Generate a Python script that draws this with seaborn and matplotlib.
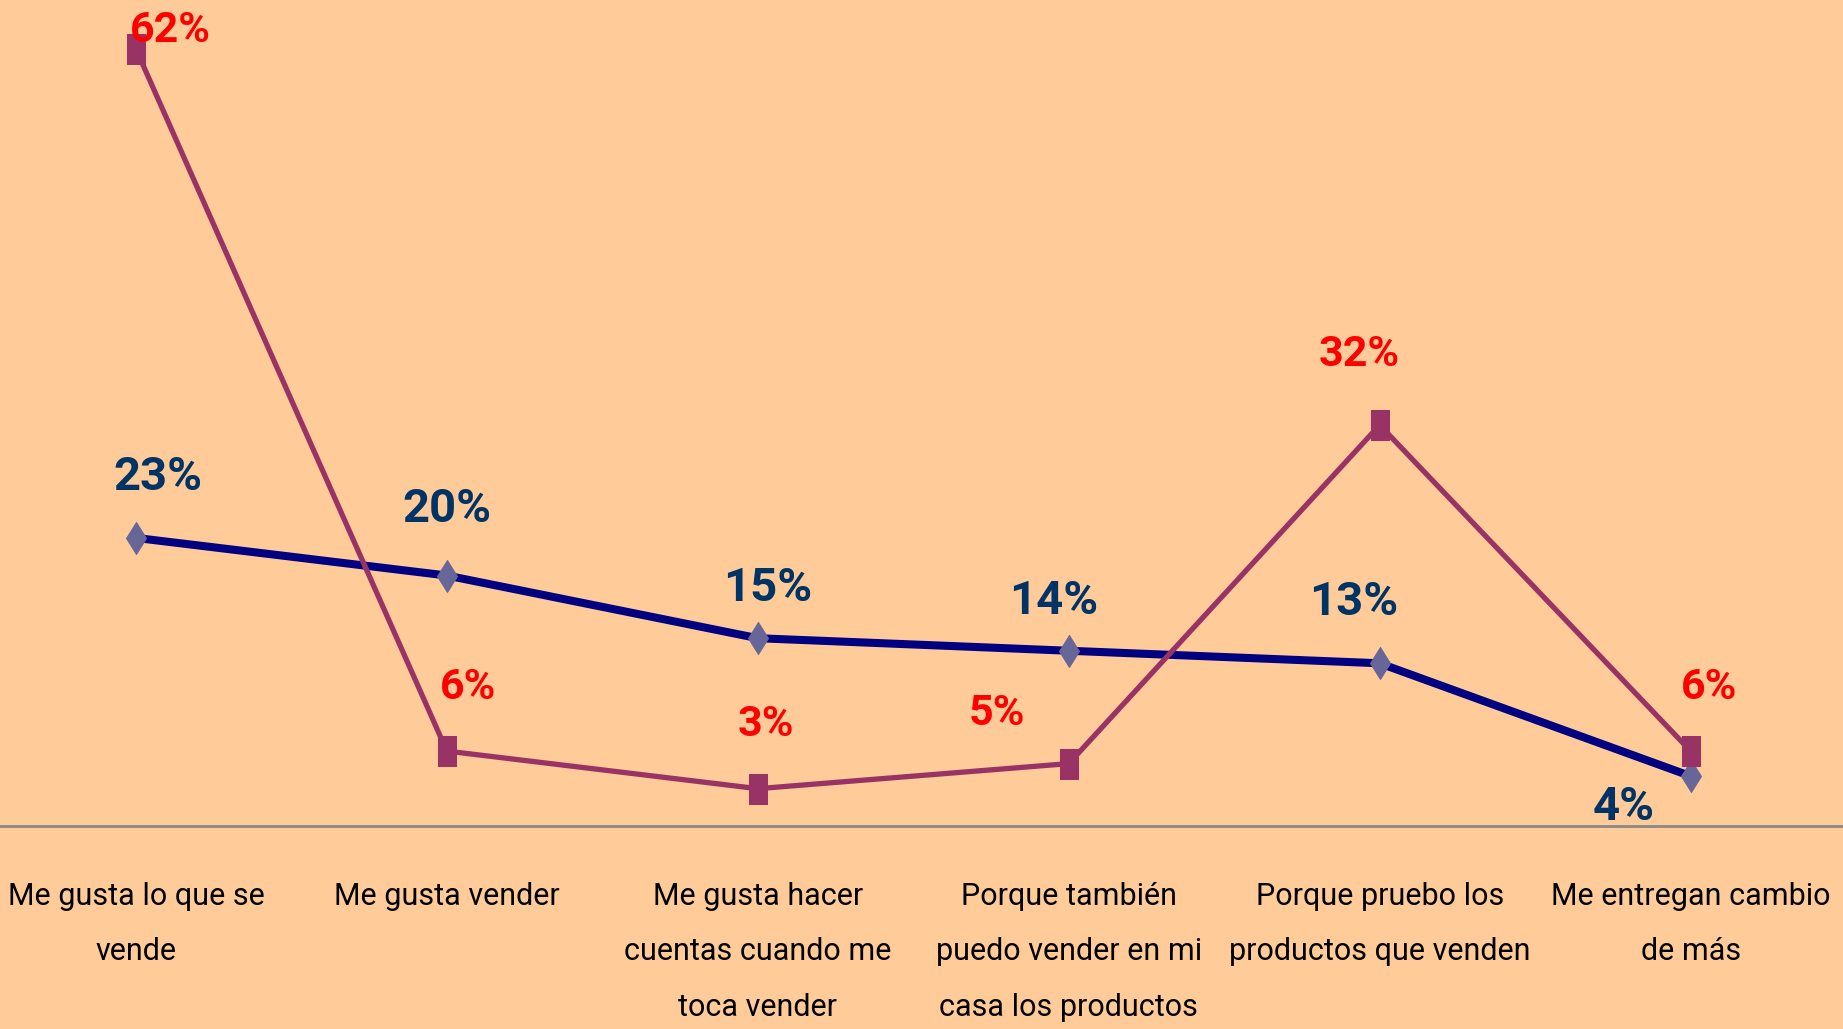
import matplotlib
matplotlib.use("Agg")
import matplotlib.pyplot as plt
import seaborn as sns

# data
categories = [
    "Me gusta lo que se\nvende",
    "Me gusta vender",
    "Me gusta hacer\ncuentas cuando me\ntoca vender",
    "Porque también\npuedo vender en mi\ncasa los productos",
    "Porque pruebo los\nproductos que venden",
    "Me entregan cambio\nde más",
]
serie_azul = [23, 20, 15, 14, 13, 4]
serie_roja = [62, 6, 3, 5, 32, 6]

# label offsets in points (layout only)
off_azul = [(16, 44), (0, 48), (7, 36), (-11, 36), (-19, 44), (-48, -22)]
off_roja = [(25, 13), (15, 46), (6, 46), (-52, 36), (-15, 51), (13, 46)]

sns.set_theme(style="white")
plt.rcParams['font.family'] = ['Roboto', 'DejaVu Sans']

bg = "#FFCC99"
fig = plt.figure(figsize=(18.43, 10.29), dpi=100, facecolor=bg)
ax = fig.add_axes([0, 0.197, 1, 0.803])
ax.set_facecolor(bg)

x = list(range(len(categories)))

diamond = [(0, 1.6), (1, 0), (0, -1.6), (-1, 0), (0, 1.6)]
rect = [(-1, -1.55), (1, -1.55), (1, 1.55), (-1, 1.55), (-1, -1.55)]

sns.lineplot(x=x, y=serie_azul, ax=ax, color="#000080", linewidth=5.8,
             marker=diamond, markersize=23, markerfacecolor="#666699",
             markeredgecolor="#666699", zorder=3)
sns.lineplot(x=x, y=serie_roja, ax=ax, color="#993366", linewidth=3.8,
             marker=rect, markersize=21, markerfacecolor="#993366",
             markeredgecolor="#993366", zorder=4)

for xi, v, (dx, dy) in zip(x, serie_azul, off_azul):
    ax.annotate(f"{v}%", (xi, v), xytext=(dx, dy), textcoords="offset points",
                ha="center", va="center", fontsize=34, fontweight="bold",
                color="#003366", zorder=5)
for xi, v, (dx, dy) in zip(x, serie_roja, off_roja):
    ax.annotate(f"{v}%", (xi, v), xytext=(dx, dy), textcoords="offset points",
                ha="center", va="center", fontsize=31, fontweight="bold",
                color="#FF0000", zorder=5)

ax.set_xlim(-0.437, 5.49)
ax.set_ylim(0, 65.9)
ax.set_xticks(x)
ax.set_xticklabels(categories, fontsize=22, color="black", linespacing=2.15)
ax.tick_params(axis="x", length=0, pad=40)
ax.set_yticks([])
for s in ["top", "left", "right"]:
    ax.spines[s].set_visible(False)
ax.spines["bottom"].set_color("#898989")
ax.spines["bottom"].set_linewidth(2)
ax.set_xlabel("")
ax.set_ylabel("")

fig.savefig("out.png", dpi=100, facecolor=bg)
